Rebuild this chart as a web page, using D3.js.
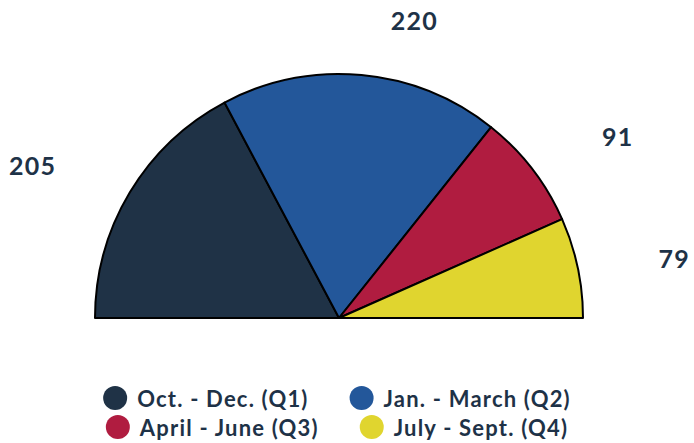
<!DOCTYPE html>
<html>
<head>
<meta charset="utf-8">
<script src="https://cdn.jsdelivr.net/npm/d3@7"></script>
<style>
  html, body { margin: 0; padding: 0; background: #fff; }
  svg text { font-family: Lato, "Open Sans", sans-serif; font-weight: 700; fill: #1e3247; }
</style>
</head>
<body>
<div id="chart"></div>
<script>
// quarters, in the order they go round the half circle
const quarters = ['Oct. - Dec. (Q1)', 'Jan. - March (Q2)', 'April - June (Q3)', 'July - Sept. (Q4)'];
const counts = [205, 220, 91, 79];
const colours = ['#1f3246', '#23579a', '#b01c40', '#e0d52f'];

const width = 694, height = 443;
const cx = 339, cy = 318, radius = 244;
const labelRadius = 302, labelGap = 24;

const svg = d3.select('#chart').append('svg')
    .attr('width', width)
    .attr('height', height);

const pie = d3.pie()
    .sort(null)
    .startAngle(-Math.PI / 2)
    .endAngle(Math.PI / 2);

const arc = d3.arc().innerRadius(0).outerRadius(radius);
const slices = pie(counts);

const g = svg.append('g').attr('transform', `translate(${cx},${cy})`);

g.selectAll('path')
    .data(slices)
    .enter().append('path')
    .attr('d', arc)
    .attr('fill', (d, i) => colours[i])
    .attr('stroke', '#000')
    .attr('stroke-width', 2)
    .attr('stroke-linejoin', 'round');

// value labels sit outside the arc, pushed sideways away from the middle
g.selectAll('text.value')
    .data(slices)
    .enter().append('text')
    .attr('class', 'value')
    .each(function(d) {
        let mid = (d.startAngle + d.endAngle) / 2;
        let right = Math.sin(mid) >= 0;
        let x = labelRadius * Math.sin(mid) + (right ? labelGap : -labelGap);
        let y = -labelRadius * Math.cos(mid) + 3;
        d3.select(this)
            .attr('x', x)
            .attr('y', y)
            .attr('text-anchor', right ? 'start' : 'end');
    })
    .attr('dominant-baseline', 'central')
    .style('font-size', '25px')
    .style('letter-spacing', '1.2px')
    .text(d => d.data);

// legend: two centred rows of two
const rows = [[0, 1], [2, 3]];
const dotR = 12, dotGap = 10, itemGap = 41, legendTop = 398, rowStep = 29, legendMid = 337;

rows.forEach((row, r) => {
    let item = svg.append('g');
    let x = 0;
    row.forEach(i => {
        let it = item.append('g').attr('transform', `translate(${x},0)`);
        it.append('circle')
            .attr('cx', dotR)
            .attr('cy', 0)
            .attr('r', dotR)
            .attr('fill', colours[i]);
        let t = it.append('text')
            .attr('x', dotR * 2 + dotGap)
            .attr('y', 0)
            .attr('dominant-baseline', 'central')
            .style('font-size', '22px')
            .style('letter-spacing', '1.2px')
            .text(quarters[i]);
        x += dotR * 2 + dotGap + t.node().getComputedTextLength() + itemGap;
    });
    let w = x - itemGap;
    item.attr('transform', `translate(${legendMid - w / 2},${legendTop + r * rowStep})`);
});
</script>
</body>
</html>
